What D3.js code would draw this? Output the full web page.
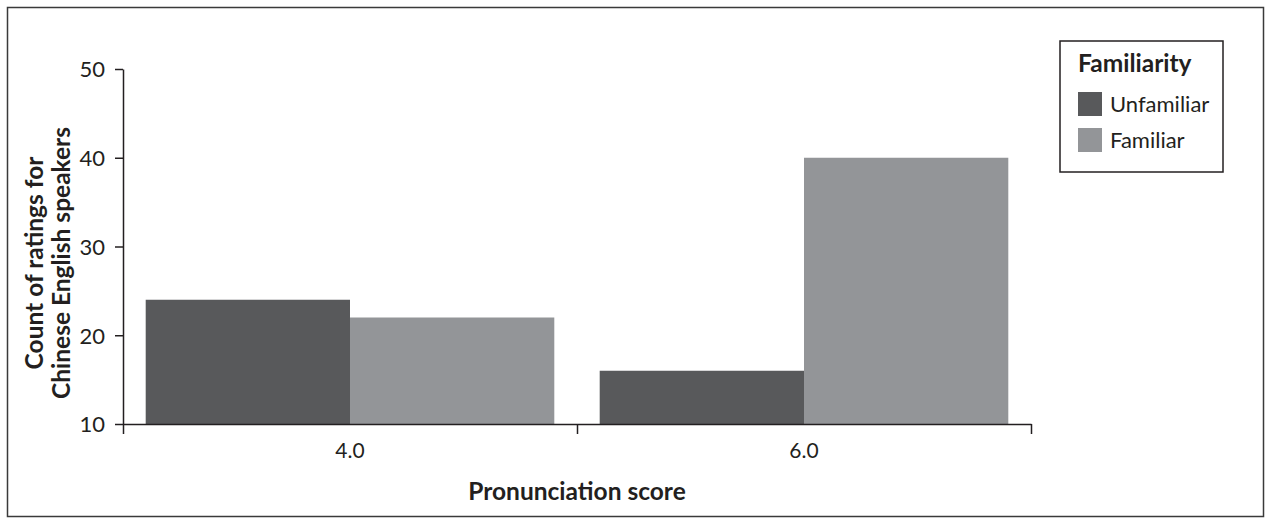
<!DOCTYPE html>
<html>
<head>
<meta charset="utf-8">
<script src="https://cdn.jsdelivr.net/npm/d3@7"></script>
<style>
  body { margin: 0; background: #fff; }
  svg text { font-family: "Lato", "Open Sans", sans-serif; fill: #231f20; }
</style>
</head>
<body>
<div id="chart"></div>
<script>
// chart data
var categories = ["4.0", "6.0"];
var seriesNames = ["Unfamiliar", "Familiar"];
var unfamiliarValues = [24, 16];
var familiarValues = [22, 40];
var yTicks = [10, 20, 30, 40, 50];
var fills = ["#58595b", "#939598"];

var width = 1268, height = 521;
var plotLeft = 123, plotRight = 1031, plotTop = 69, plotBottom = 424;

var svg = d3.select("#chart").append("svg")
  .attr("width", width)
  .attr("height", height);

// outer frame
svg.append("rect")
  .attr("x", 7.5).attr("y", 7.5)
  .attr("width", 1256).attr("height", 509)
  .attr("fill", "none")
  .attr("stroke", "#3a3a3a")
  .attr("stroke-width", 1.5);

var x0 = d3.scaleBand()
  .domain(categories)
  .range([plotLeft, plotRight])
  .paddingInner(0.1)
  .paddingOuter(0.05);

var x1 = d3.scaleBand()
  .domain(seriesNames)
  .range([0, x0.bandwidth()]);

var y = d3.scaleLinear()
  .domain([10, 50])
  .range([plotBottom, plotTop]);

var rows = categories.map(function(c, i) {
  return { cat: c, values: [unfamiliarValues[i], familiarValues[i]] };
});

// bars
var groups = svg.selectAll(".grp").data(rows).enter()
  .append("g")
  .attr("class", "grp")
  .attr("transform", function(d) { return "translate(" + x0(d.cat) + ",0)"; });

groups.selectAll("rect")
  .data(function(d) { return d.values.map(function(v, j) { return { name: seriesNames[j], v: v, j: j }; }); })
  .enter().append("rect")
  .attr("x", function(d) { return x1(d.name); })
  .attr("y", function(d) { return y(d.v); })
  .attr("width", x1.bandwidth())
  .attr("height", function(d) { return plotBottom - y(d.v); })
  .attr("fill", function(d) { return fills[d.j]; });

// y axis
var yAxis = svg.append("g")
  .attr("transform", "translate(" + plotLeft + ",0)")
  .call(d3.axisLeft(y).tickValues(yTicks).tickSize(8).tickPadding(10).tickSizeOuter(0));
yAxis.select(".domain").attr("stroke", "#231f20").attr("stroke-width", 1.5);
yAxis.selectAll(".tick line").attr("stroke", "#231f20").attr("stroke-width", 1.5);
yAxis.selectAll(".tick text").style("font-size", "22px").attr("fill", "#231f20").attr("dy", "0.36em");

// x axis: ticks at category boundaries
var xLine = d3.scaleLinear().domain([0, categories.length]).range([plotLeft, plotRight]);
var xAxis = svg.append("g")
  .attr("transform", "translate(0," + plotBottom + ")")
  .call(d3.axisBottom(xLine).ticks(categories.length).tickSize(10).tickFormat("").tickSizeOuter(0));
xAxis.select(".domain").attr("stroke", "#231f20").attr("stroke-width", 1.5);
xAxis.selectAll(".tick line").attr("stroke", "#231f20").attr("stroke-width", 1.5);

svg.selectAll(".xlab").data(categories).enter()
  .append("text")
  .attr("x", function(d) { return x0(d) + x0.bandwidth() / 2; })
  .attr("y", 458)
  .attr("text-anchor", "middle")
  .style("font-size", "21px")
  .text(function(d) { return d; });

// axis titles
svg.append("text")
  .attr("x", (plotLeft + plotRight) / 2)
  .attr("y", 500)
  .attr("text-anchor", "middle")
  .style("font-size", "24.5px")
  .style("font-weight", "bold")
  .text("Pronunciation score");

var yTitle = svg.append("text")
  .attr("transform", "translate(0,263) rotate(-90)")
  .attr("text-anchor", "middle")
  .style("font-size", "24.5px")
  .style("font-weight", "bold");
yTitle.append("tspan").attr("x", 0).attr("y", 43).text("Count of ratings for");
yTitle.append("tspan").attr("x", 0).attr("y", 70).text("Chinese English speakers");

// legend
var legend = svg.append("g").attr("transform", "translate(1060,41)");
legend.append("rect")
  .attr("width", 163).attr("height", 131)
  .attr("fill", "#fff")
  .attr("stroke", "#231f20")
  .attr("stroke-width", 1.5);
legend.append("text")
  .attr("x", 18).attr("y", 31)
  .style("font-size", "24.5px")
  .style("font-weight", "bold")
  .text("Familiarity");
var items = legend.selectAll(".li").data(seriesNames).enter()
  .append("g")
  .attr("transform", function(d, i) { return "translate(18," + (51 + i * 36) + ")"; });
items.append("rect")
  .attr("width", 24).attr("height", 24)
  .attr("fill", function(d, i) { return fills[i]; });
items.append("text")
  .attr("x", 32).attr("y", 20)
  .style("font-size", "22px")
  .text(function(d) { return d; });
</script>
</body>
</html>
